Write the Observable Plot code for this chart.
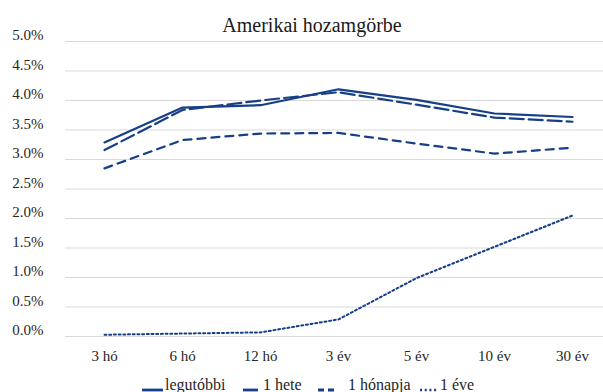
<!DOCTYPE html>
<html>
<head>
<meta charset="utf-8">
<script src="https://cdn.jsdelivr.net/npm/d3@7"></script>
<script src="https://cdn.jsdelivr.net/npm/@observablehq/plot@0.6"></script>
<style>
  html, body { margin: 0; padding: 0; background: #fff; }
  #page { position: relative; width: 603px; height: 392px; overflow: hidden; font-family: "Liberation Serif", "Times New Roman", Tinos, "Noto Serif", FreeSerif, "DejaVu Serif", Georgia, serif; color: #262626; }
  #title { position: absolute; left: 0; top: 13px; width: 603px; padding-left: 21px; box-sizing: border-box; text-align: center; font-size: 20px; line-height: 24px; color: #1a1a1a; z-index: 2; }
  #chart { position: absolute; left: 0; top: 16px; }
  #legend { position: absolute; left: 0; top: 375px; width: 603px; height: 30px; font-size: 16px; }
  .item { position: absolute; top: 0; white-space: nowrap; line-height: 20px; }
</style>
</head>
<body>
<div id="page">
  <div id="title">Amerikai hozamgörbe</div>
  <div id="chart"></div>
  <div id="legend"></div>
</div>
<script>
// Maturities along the curve
const categories = ["3 hó", "6 hó", "12 hó", "3 év", "5 év", "10 év", "30 év"];

// Yields in percent for each snapshot of the curve
const legutobbi  = [3.29, 3.88, 3.92, 4.19, 4.01, 3.78, 3.72];
const egyHete    = [3.16, 3.84, 4.00, 4.14, 3.93, 3.71, 3.64];
const egyHonapja = [2.85, 3.33, 3.44, 3.45, 3.27, 3.10, 3.20];
const egyEve     = [0.03, 0.05, 0.07, 0.29, 0.99, 1.52, 2.05];

const seriesNames = ["legutóbbi", "1 hete", "1 hónapja", "1 éve"];
const yTicks = [0, 0.5, 1, 1.5, 2, 2.5, 3, 3.5, 4, 4.5, 5];

const color = "#173f87";
const styles = {
  "legutóbbi": {strokeWidth: 2.2, dash: null},
  "1 hete":    {strokeWidth: 2.2, dash: "14,5"},
  "1 hónapja": {strokeWidth: 2.2, dash: "8,6"},
  "1 éve":     {strokeWidth: 2, dash: "2,2.7"}
};

const seriesValues = [legutobbi, egyHete, egyHonapja, egyEve];
const rows = seriesNames.flatMap((name, i) =>
  categories.map((c, j) => ({series: name, maturity: c, value: seriesValues[i][j]}))
);

const lineMarks = seriesNames.map(name =>
  Plot.line(rows.filter(d => d.series === name), {
    x: "maturity", y: "value",
    stroke: color,
    strokeWidth: styles[name].strokeWidth,
    strokeDasharray: styles[name].dash,
    strokeLinejoin: "round"
  })
);

const fontStack = "'Liberation Serif', 'Times New Roman', Tinos, 'Noto Serif', FreeSerif, 'DejaVu Serif', Georgia, serif";
const chart = Plot.plot({
  width: 603,
  height: 352,
  marginTop: 25,
  marginBottom: 32,
  marginLeft: 65,
  marginRight: 0,
  style: {fontFamily: fontStack, fontSize: "15px", color: "#262626", background: "transparent"},
  x: {type: "point", domain: categories, range: [104, 572], padding: 0, label: null},
  y: {domain: [0, 5], label: null},
  marks: [
    Plot.ruleY(yTicks, {stroke: "#d9d9d9", strokeWidth: 1.2}),
    Plot.axisY({ticks: yTicks, tickSize: 0, tickPadding: 22, dy: -6, fontFamily: fontStack, tickFormat: d => d.toFixed(1) + "%", label: null}),
    Plot.axisX({tickSize: 0, tickPadding: 14, fontFamily: fontStack, label: null}),
    ...lineMarks
  ]
});
document.getElementById("chart").appendChild(chart);

// Legend with line-style swatches
const legendPos = {
  "legutóbbi": {swatch: [142, 163], text: 165},
  "1 hete":    {swatch: [243, 258], text: 263},
  "1 hónapja": {swatch: [318, 336], text: 348},
  "1 éve":     {swatch: [420, 438], text: 440}
};
const legendDash = {"legutóbbi": null, "1 hete": null, "1 hónapja": "6,4", "1 éve": "2,2.7"};
const legend = d3.select("#legend");
seriesNames.forEach(name => {
  const p = legendPos[name];
  const w = p.swatch[1] - p.swatch[0];
  const sw = legend.append("svg")
    .attr("width", w).attr("height", 30)
    .style("position", "absolute").style("left", p.swatch[0] + "px").style("top", "0px");
  sw.append("line")
    .attr("x1", 0).attr("x2", w).attr("y1", 15).attr("y2", 15)
    .attr("stroke", color)
    .attr("stroke-width", styles[name].strokeWidth + 0.6)
    .attr("stroke-dasharray", legendDash[name]);
  legend.append("div").attr("class", "item")
    .style("left", p.text + "px")
    .text(name);
});
</script>
</body>
</html>
